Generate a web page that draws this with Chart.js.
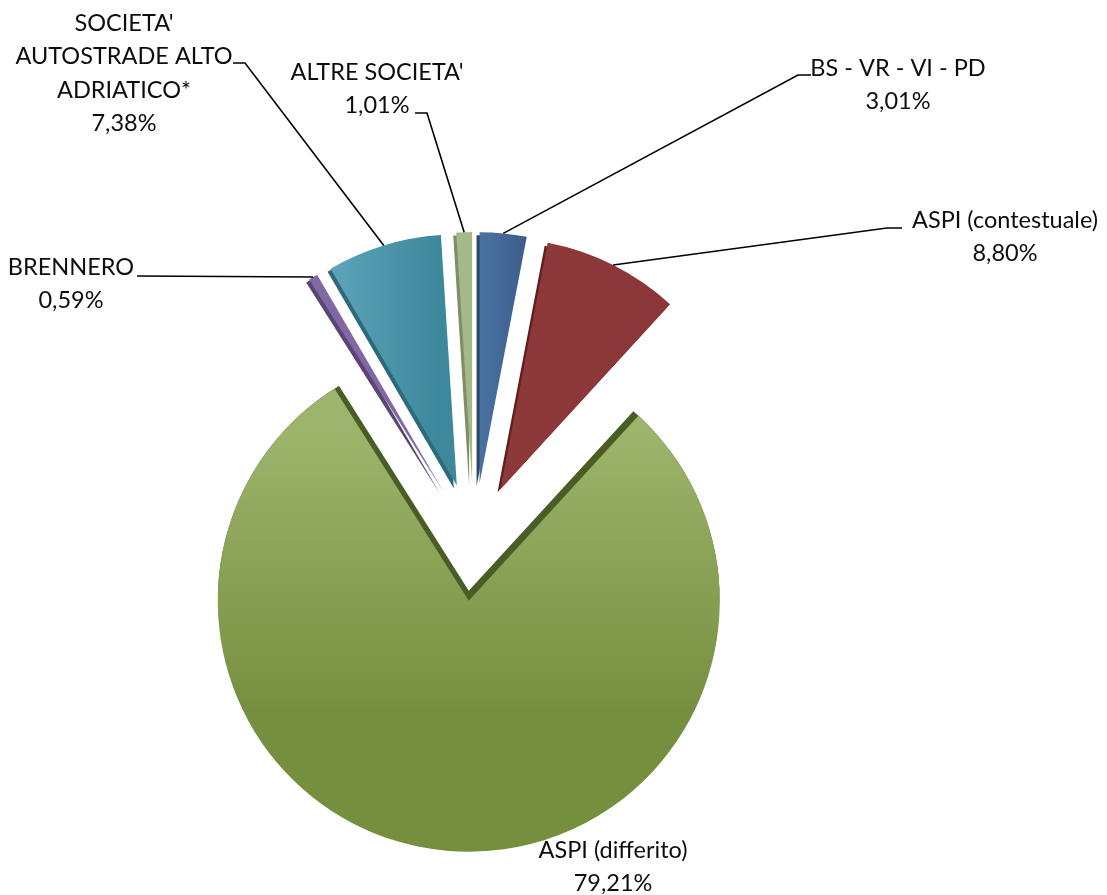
<!DOCTYPE html>
<html>
<head>
<meta charset="utf-8">
<script src="https://cdn.jsdelivr.net/npm/chart.js@4.4.0/dist/chart.umd.min.js"></script>
<style>
  html, body { margin: 0; padding: 0; background: #fff; }
  #wrap { width: 1107px; height: 895px; position: relative; }
</style>
</head>
<body>
<div id="wrap"><canvas id="grafico"></canvas></div>
<script>
// dati del grafico
const categorie = ['BS - VR - VI - PD', 'ASPI (contestuale)', 'ASPI (differito)', 'BRENNERO', "SOCIETA' AUTOSTRADE ALTO ADRIATICO*", "ALTRE SOCIETA'"];
const percentuali = [3.01, 8.80, 79.21, 0.59, 7.38, 1.01];
// righe di testo delle etichette, come vanno a capo nell'originale
const righeEtichetta = [['BS - VR - VI - PD'], ['ASPI (contestuale)'], ['ASPI (differito)'], ['BRENNERO'], ["SOCIETA'", 'AUTOSTRADE ALTO', 'ADRIATICO*'], ["ALTRE SOCIETA'"]];

// colori: faccia chiara, faccia scura (gradiente) e lato 3d
const coloriChiari = ['#4a72a3', '#8f3b3b', '#9db46c', '#8369a4', '#63abc0', '#a6bb8b'];
const coloriScuri = ['#3a5c8a', '#8b3737', '#768f3f', '#7d63a0', '#3e889c', '#a2b787'];
const coloriLato = ['#2b4666', '#5e2020', '#4a5d25', '#5a4675', '#2d6b7c', '#7d8f66'];

// posizione delle etichette e gomiti delle linee guida
const posEtichette = [
  { x: 898, y: 68, gomito: [[798, 75], [811, 75]] },
  { x: 1005, y: 220, gomito: [[887, 228], [902, 228]] },
  { x: 613, y: 850, gomito: null },
  { x: 71, y: 267, gomito: [[137, 276]] },
  { x: 124, y: 23, gomito: [[245, 63], [233, 63]] },
  { x: 377, y: 72, gomito: [[427, 113], [415, 113]] },
];

const ESPLOSO = 59;      // distanza delle fette dal centro
const RAGGIO = 251;
const INTERLINEA = 33.5;
const FONT = '23.5px Lato, "Open Sans", sans-serif';

const formatta = (v) => v.toFixed(2).replace('.', ',') + '%';

// gradiente per ogni fetta, calcolato dal centro dell'area del grafico
function riempimento(context) {
  const i = context.dataIndex;
  const chart = context.chart;
  const area = chart.chartArea;
  if (!area) return coloriScuri[i];
  const cx = (area.left + area.right) / 2;
  const cy = (area.top + area.bottom) / 2;
  const c = chart.ctx;
  let g;
  if (i === 2) {
    g = c.createLinearGradient(0, cy - 170, 0, cy + 110);
  } else {
    g = c.createLinearGradient(cx - 160, 0, cx + 200, 0);
    if (i === 4) g = c.createLinearGradient(cx - 150, 0, cx - 20, 0);
    if (i === 0) g = c.createLinearGradient(cx, 0, cx + 50, 0);
  }
  g.addColorStop(0, coloriChiari[i]);
  g.addColorStop(1, coloriScuri[i]);
  return g;
}

// sposta ogni fetta lungo la bisettrice e aggiunge un lato scuro
const pluginEsploso = {
  id: 'esploso',
  beforeDatasetDraw(chart) {
    const meta = chart.getDatasetMeta(0);
    meta.data.forEach((el, i) => {
      if (el._esploso) return;
      el._esploso = true;
      const drawBase = el.draw;
      el.draw = function (ctx, area) {
        const mid = (this.startAngle + this.endAngle) / 2;
        ctx.save();
        ctx.translate(Math.cos(mid) * ESPLOSO, Math.sin(mid) * ESPLOSO);
        // lato 3d: copia scura spostata, solo dentro il cerchio della fetta
        const lato = Object.create(this);
        lato.options = Object.assign({}, this.options, { backgroundColor: coloriLato[i] });
        ctx.save();
        ctx.beginPath();
        ctx.arc(this.x, this.y, this.outerRadius, 0, Math.PI * 2);
        ctx.clip();
        if (i === 2) ctx.translate(0, -10);
        else ctx.translate(-3, 3);
        drawBase.call(lato, ctx, area);
        ctx.restore();
        drawBase.call(this, ctx, area);
        ctx.restore();
      };
    });
  },
  afterDraw(chart) {
    const ctx = chart.ctx;
    const meta = chart.getDatasetMeta(0);
    ctx.save();
    ctx.font = FONT;
    ctx.fillStyle = '#0d0d0d';
    ctx.textAlign = 'center';
    ctx.textBaseline = 'middle';
    ctx.strokeStyle = '#000';
    ctx.lineWidth = 1.6;
    meta.data.forEach((el, i) => {
      const p = posEtichette[i];
      const righe = righeEtichetta[i].concat([formatta(percentuali[i])]);
      righe.forEach((r, k) => ctx.fillText(r, p.x, p.y + k * INTERLINEA));
      if (!p.gomito) return;
      // punto di attacco sul bordo esterno della fetta
      const mid = (el.startAngle + el.endAngle) / 2;
      const d = el.outerRadius + ESPLOSO;
      ctx.beginPath();
      ctx.moveTo(el.x + Math.cos(mid) * d, el.y + Math.sin(mid) * d);
      p.gomito.forEach(([x, y]) => ctx.lineTo(x, y));
      ctx.stroke();
    });
    ctx.restore();
  }
};

const canvas = document.getElementById('grafico');
new Chart(canvas, {
  type: 'pie',
  data: {
    labels: categorie,
    datasets: [{
      data: percentuali,
      backgroundColor: riempimento,
      borderWidth: 0,
      offset: 0,
      hoverOffset: 0,
      radius: RAGGIO,
      clip: false,
    }]
  },
  options: {
    responsive: true,
    maintainAspectRatio: false,
    animation: false,
    layout: { padding: { left: 0, right: 159, top: 189, bottom: 0 } },
    plugins: {
      legend: { display: false },
      tooltip: { enabled: false },
    },
    events: [],
  },
  plugins: [pluginEsploso],
});
</script>
</body>
</html>
